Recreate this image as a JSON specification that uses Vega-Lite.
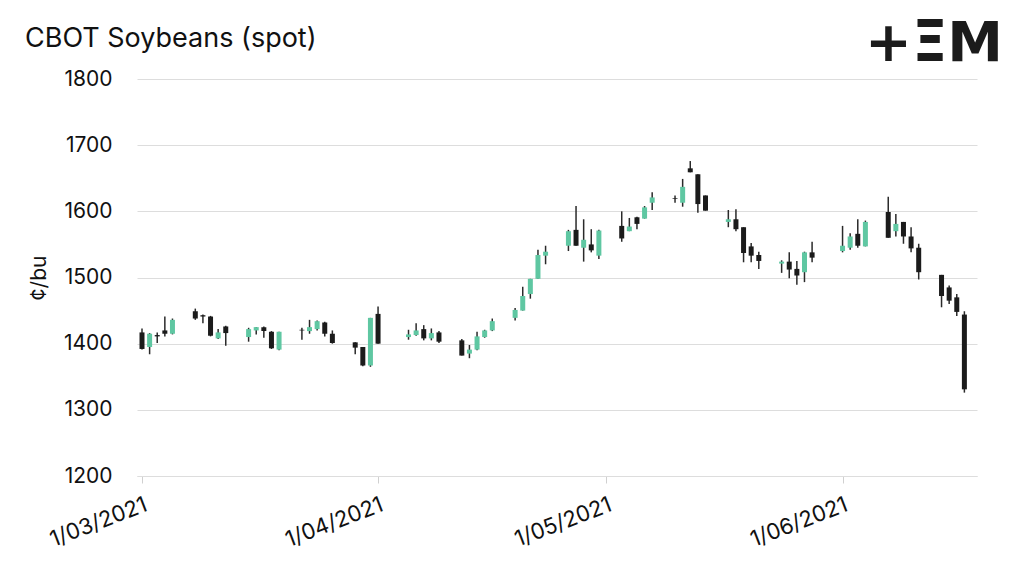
{
  "$schema": "https://vega.github.io/schema/vega-lite/v6.json",
  "autosize": "none",
  "padding": {"left": 137, "top": 79, "right": 47, "bottom": 94},
  "width": 840,
  "height": 397,
  "background": "white",
  "title": {
    "text": "CBOT Soybeans (spot)",
    "anchor": "start",
    "frame": "group",
    "dx": -112,
    "dy": 58,
    "offset": 0,
    "baseline": "alphabetic",
    "font": "Inter",
    "fontSize": 27,
    "fontWeight": "normal",
    "color": "#111111"
  },
  "config": {
    "view": {"stroke": null},
    "axis": {"labelFont": "Inter", "titleFont": "Inter", "labelColor": "#111111", "titleColor": "#111111"}
  },
  "layer": [
    {
      "data": {"name": "candles", "values": [
        {"d": "2021-03-01", "o": 1417, "h": 1423, "l": 1391, "c": 1392},
        {"d": "2021-03-02", "o": 1395, "h": 1416, "l": 1384, "c": 1415},
        {"d": "2021-03-03", "o": 1413, "h": 1417, "l": 1401, "c": 1411},
        {"d": "2021-03-04", "o": 1420, "h": 1441, "l": 1411, "c": 1415},
        {"d": "2021-03-05", "o": 1415, "h": 1438, "l": 1414, "c": 1436},
        {"d": "2021-03-08", "o": 1449, "h": 1453, "l": 1436, "c": 1438},
        {"d": "2021-03-09", "o": 1443, "h": 1444, "l": 1431, "c": 1441},
        {"d": "2021-03-10", "o": 1441, "h": 1442, "l": 1411, "c": 1412},
        {"d": "2021-03-11", "o": 1408, "h": 1422, "l": 1407, "c": 1417},
        {"d": "2021-03-12", "o": 1426, "h": 1427, "l": 1397, "c": 1416},
        {"d": "2021-03-15", "o": 1410, "h": 1424, "l": 1403, "c": 1422},
        {"d": "2021-03-16", "o": 1420, "h": 1425, "l": 1414, "c": 1425},
        {"d": "2021-03-17", "o": 1425, "h": 1426, "l": 1409, "c": 1419},
        {"d": "2021-03-18", "o": 1418, "h": 1419, "l": 1392, "c": 1393},
        {"d": "2021-03-19", "o": 1391, "h": 1418, "l": 1390, "c": 1418},
        {"d": "2021-03-22", "o": 1421, "h": 1424, "l": 1406, "c": 1420},
        {"d": "2021-03-23", "o": 1419, "h": 1436, "l": 1415, "c": 1425},
        {"d": "2021-03-24", "o": 1422, "h": 1435, "l": 1420, "c": 1434},
        {"d": "2021-03-25", "o": 1432, "h": 1433, "l": 1411, "c": 1415},
        {"d": "2021-03-26", "o": 1415, "h": 1420, "l": 1400, "c": 1401},
        {"d": "2021-03-29", "o": 1402, "h": 1402, "l": 1384, "c": 1394},
        {"d": "2021-03-30", "o": 1395, "h": 1395, "l": 1366, "c": 1367},
        {"d": "2021-03-31", "o": 1367, "h": 1439, "l": 1365, "c": 1439},
        {"d": "2021-04-01", "o": 1445, "h": 1456, "l": 1400, "c": 1400},
        {"d": "2021-04-05", "o": 1410, "h": 1421, "l": 1406, "c": 1414},
        {"d": "2021-04-06", "o": 1413, "h": 1431, "l": 1412, "c": 1420},
        {"d": "2021-04-07", "o": 1422, "h": 1428, "l": 1405, "c": 1408},
        {"d": "2021-04-08", "o": 1408, "h": 1423, "l": 1405, "c": 1416},
        {"d": "2021-04-09", "o": 1417, "h": 1419, "l": 1401, "c": 1403},
        {"d": "2021-04-12", "o": 1405, "h": 1407, "l": 1382, "c": 1382},
        {"d": "2021-04-13", "o": 1385, "h": 1398, "l": 1378, "c": 1391},
        {"d": "2021-04-14", "o": 1391, "h": 1418, "l": 1390, "c": 1411},
        {"d": "2021-04-15", "o": 1410, "h": 1421, "l": 1409, "c": 1420},
        {"d": "2021-04-16", "o": 1420, "h": 1438, "l": 1419, "c": 1434},
        {"d": "2021-04-19", "o": 1439, "h": 1454, "l": 1435, "c": 1451},
        {"d": "2021-04-20", "o": 1450, "h": 1486, "l": 1450, "c": 1472},
        {"d": "2021-04-21", "o": 1475, "h": 1498, "l": 1468, "c": 1498},
        {"d": "2021-04-22", "o": 1498, "h": 1542, "l": 1498, "c": 1534},
        {"d": "2021-04-23", "o": 1533, "h": 1548, "l": 1520, "c": 1539},
        {"d": "2021-04-26", "o": 1548, "h": 1572, "l": 1540, "c": 1570},
        {"d": "2021-04-27", "o": 1572, "h": 1608, "l": 1548, "c": 1548},
        {"d": "2021-04-28", "o": 1545, "h": 1588, "l": 1524, "c": 1557},
        {"d": "2021-04-29", "o": 1550, "h": 1573, "l": 1538, "c": 1541},
        {"d": "2021-04-30", "o": 1533, "h": 1572, "l": 1528, "c": 1571},
        {"d": "2021-05-03", "o": 1578, "h": 1600, "l": 1554, "c": 1559},
        {"d": "2021-05-04", "o": 1570, "h": 1590, "l": 1570, "c": 1577},
        {"d": "2021-05-05", "o": 1591, "h": 1592, "l": 1573, "c": 1581},
        {"d": "2021-05-06", "o": 1589, "h": 1608, "l": 1589, "c": 1606},
        {"d": "2021-05-07", "o": 1613, "h": 1629, "l": 1602, "c": 1621},
        {"d": "2021-05-10", "o": 1620, "h": 1624, "l": 1613, "c": 1619},
        {"d": "2021-05-11", "o": 1613, "h": 1649, "l": 1607, "c": 1637},
        {"d": "2021-05-12", "o": 1665, "h": 1676, "l": 1659, "c": 1659},
        {"d": "2021-05-13", "o": 1656, "h": 1656, "l": 1598, "c": 1611},
        {"d": "2021-05-14", "o": 1624, "h": 1624, "l": 1601, "c": 1601},
        {"d": "2021-05-17", "o": 1584, "h": 1602, "l": 1576, "c": 1588},
        {"d": "2021-05-18", "o": 1588, "h": 1603, "l": 1570, "c": 1573},
        {"d": "2021-05-19", "o": 1576, "h": 1576, "l": 1523, "c": 1537},
        {"d": "2021-05-20", "o": 1547, "h": 1552, "l": 1523, "c": 1533},
        {"d": "2021-05-21", "o": 1534, "h": 1539, "l": 1513, "c": 1525},
        {"d": "2021-05-24", "o": 1521, "h": 1526, "l": 1507, "c": 1524},
        {"d": "2021-05-25", "o": 1524, "h": 1538, "l": 1499, "c": 1512},
        {"d": "2021-05-26", "o": 1513, "h": 1525, "l": 1489, "c": 1503},
        {"d": "2021-05-27", "o": 1508, "h": 1539, "l": 1493, "c": 1538},
        {"d": "2021-05-28", "o": 1538, "h": 1554, "l": 1523, "c": 1530},
        {"d": "2021-06-01", "o": 1540, "h": 1578, "l": 1538, "c": 1548},
        {"d": "2021-06-02", "o": 1545, "h": 1567, "l": 1542, "c": 1562},
        {"d": "2021-06-03", "o": 1566, "h": 1588, "l": 1545, "c": 1548},
        {"d": "2021-06-04", "o": 1547, "h": 1586, "l": 1547, "c": 1584},
        {"d": "2021-06-07", "o": 1599, "h": 1622, "l": 1560, "c": 1560},
        {"d": "2021-06-08", "o": 1570, "h": 1596, "l": 1562, "c": 1581},
        {"d": "2021-06-09", "o": 1584, "h": 1584, "l": 1551, "c": 1562},
        {"d": "2021-06-10", "o": 1562, "h": 1576, "l": 1538, "c": 1544},
        {"d": "2021-06-11", "o": 1545, "h": 1551, "l": 1497, "c": 1508},
        {"d": "2021-06-14", "o": 1504, "h": 1504, "l": 1455, "c": 1472},
        {"d": "2021-06-15", "o": 1485, "h": 1488, "l": 1460, "c": 1465},
        {"d": "2021-06-16", "o": 1470, "h": 1475, "l": 1442, "c": 1448},
        {"d": "2021-06-17", "o": 1444, "h": 1449, "l": 1326, "c": 1331}
      ]},
      "encoding": {
        "x": {
          "field": "d", "type": "temporal",
          "scale": {"domain": [{"year": 2021, "month": 3, "date": 1}, {"year": 2021, "month": 6, "date": 18}]},
          "axis": {
            "title": null,
            "values": [
              {"year": 2021, "month": 3, "date": 1},
              {"year": 2021, "month": 4, "date": 1},
              {"year": 2021, "month": 5, "date": 1},
              {"year": 2021, "month": 6, "date": 1}
            ],
            "format": "%-d/%m/%Y",
            "labelAngle": -21,
            "labelFontSize": 22,
            "labelPadding": 11,
            "grid": false,
            "domain": true,
            "domainColor": "#dddddd",
            "ticks": true,
            "tickColor": "#d0d0d0",
            "tickSize": 7,
            "labelOverlap": false
          }
        },
        "y": {
          "type": "quantitative",
          "scale": {"domain": [1200, 1800], "nice": false, "zero": false},
          "axis": {
            "title": "¢/bu",
            "titleFontSize": 21,
            "titleFontWeight": "normal",
            "titlePadding": 14,
            "values": [1200, 1300, 1400, 1500, 1600, 1700, 1800],
            "format": "d",
            "labelFontSize": 21,
            "labelPadding": 25,
            "ticks": false,
            "domain": false,
            "grid": true,
            "gridColor": "#dddddd",
            "gridWidth": 1
          }
        }
      },
      "layer": [
        {
          "mark": {"type": "rule", "color": "#2a2a2a", "strokeWidth": 1.5},
          "encoding": {
            "y": {"field": "l", "type": "quantitative"},
            "y2": {"field": "h"}
          }
        },
        {
          "mark": {"type": "bar", "size": 5},
          "encoding": {
            "y": {"field": "o", "type": "quantitative"},
            "y2": {"field": "c"},
            "color": {
              "condition": {"test": "datum.c > datum.o", "value": "#5fc7a2"},
              "value": "#1b1b1b"
            }
          }
        }
      ]
    },
    {
      "data": {"values": [{"logo": "+ΞM"}]},
      "mark": {"type": "text", "align": "right", "baseline": "alphabetic", "font": "DejaVu Sans", "fontWeight": "bold", "fontSize": 56, "color": "#1b1b1b", "letterSpacing": 3},
      "encoding": {
        "text": {"field": "logo"},
        "x": {"value": 866},
        "y": {"value": -18}
      }
    }
  ]
}
